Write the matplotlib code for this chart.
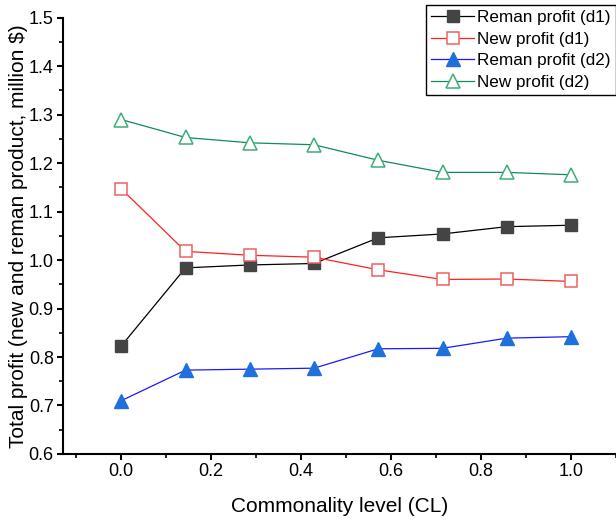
import matplotlib.pyplot as plt
from matplotlib.ticker import MultipleLocator

plt.rcParams['font.family'] = ['Liberation Sans', 'DejaVu Sans']

# Commonality level (8 equally spaced levels)
cl = [0.0, 1/7, 2/7, 3/7, 4/7, 5/7, 6/7, 1.0]

reman_d1 = [0.823, 0.984, 0.990, 0.993, 1.046, 1.054, 1.069, 1.072]
new_d1 = [1.147, 1.018, 1.010, 1.006, 0.980, 0.960, 0.961, 0.956]
reman_d2 = [0.710, 0.773, 0.775, 0.777, 0.817, 0.818, 0.839, 0.842]
new_d2 = [1.290, 1.253, 1.242, 1.238, 1.206, 1.181, 1.181, 1.176]

fig = plt.figure(figsize=(6.16, 5.23), dpi=100)
ax = fig.add_axes([0.102, 0.132, 0.898, 0.834])

ax.plot(cl, reman_d1, color='black', lw=0.9, marker='s', ms=9,
        mfc='#444444', mec='#444444', label='Reman profit (d1)')
ax.plot(cl, new_d1, color='#ff2020', lw=0.9, marker='s', ms=9,
        mfc='white', mec='#f06060', mew=1.1, label='New profit (d1)')
ax.plot(cl, reman_d2, color='#1a1aff', lw=0.9, marker='^', ms=10.5,
        mfc='#1f6fdd', mec='#1f6fdd', label='Reman profit (d2)')
ax.plot(cl, new_d2, color='#108a60', lw=0.9, marker='^', ms=10.5,
        mfc='white', mec='#3fae78', mew=1.1, label='New profit (d2)')

ax.set_xlim(-0.13, 1.1)
ax.set_ylim(0.6, 1.5)
ax.xaxis.set_major_locator(MultipleLocator(0.2))
ax.xaxis.set_minor_locator(MultipleLocator(0.1))
ax.yaxis.set_major_locator(MultipleLocator(0.1))
ax.yaxis.set_minor_locator(MultipleLocator(0.05))
ax.xaxis.set_major_formatter(plt.FormatStrFormatter('%.1f'))
ax.yaxis.set_major_formatter(plt.FormatStrFormatter('%.1f'))

for s in ['top', 'right']:
    ax.spines[s].set_visible(False)
for s in ['left', 'bottom']:
    ax.spines[s].set_linewidth(1.5)
ax.tick_params(which='major', direction='out', length=4.5, width=1.5,
               pad=2, labelsize=13)
ax.tick_params(which='minor', direction='out', length=2.8, width=1.2)

ax.set_xlabel('Commonality level (CL)', fontsize=15, labelpad=12)
ax.set_ylabel('Total profit (new and reman product, million $)', fontsize=15)
ax.yaxis.set_label_coords(-0.063, 0.5)

leg = fig.legend(loc='upper right', bbox_to_anchor=(1.0, 0.99), fontsize=12.3,
                 frameon=True, fancybox=False, edgecolor='black', framealpha=1,
                 borderpad=0.3, labelspacing=0.38, handlelength=2.5,
                 handletextpad=0.2, borderaxespad=0)
leg.get_frame().set_linewidth(1.0)

fig.savefig('out.png', dpi=100)
